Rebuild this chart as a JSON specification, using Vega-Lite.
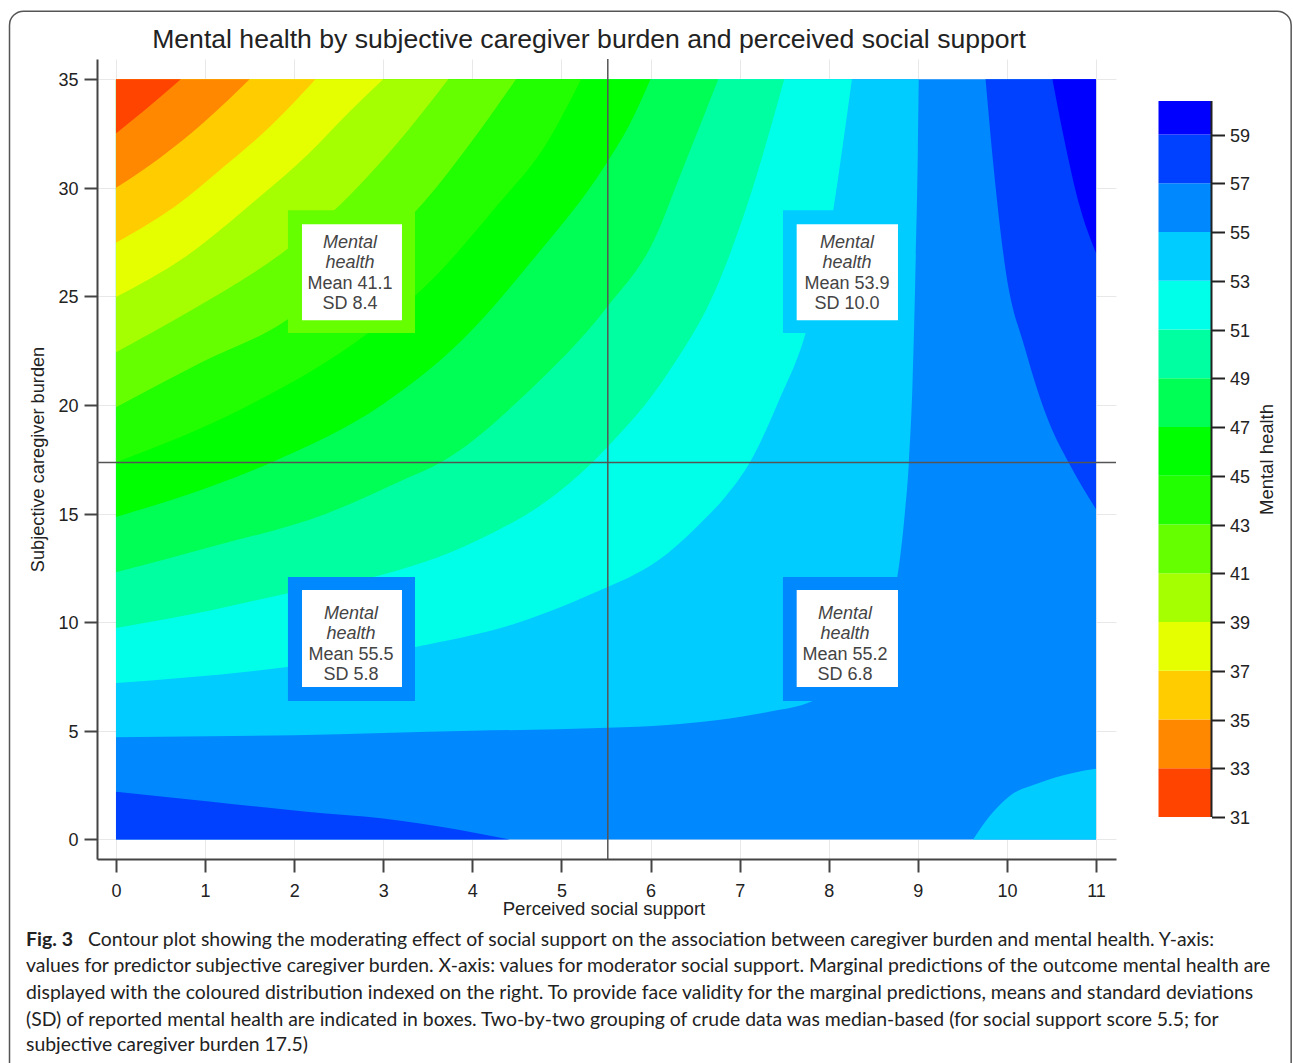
{"$schema":"https://vega.github.io/schema/vega-lite/v6.json","background":"white","padding":{"left":8,"top":10,"right":0,"bottom":0},"autosize":{"type":"pad"},"bounds":"flush","spacing":42.5,"config":{"view":{"stroke":null},"font":"Liberation Sans"},
"datasets":{"contour":[
{"region":"base","band":"55-57","x":0,"y":0,"y2":35},{"region":"base","band":"55-57","x":11,"y":0,"y2":35},
{"region":"L55","band":"53-55","x":0,"y":4.7,"y2":35},{"region":"L55","band":"53-55","x":2,"y":4.8,"y2":35},{"region":"L55","band":"53-55","x":4,"y":5.0,"y2":35},{"region":"L55","band":"53-55","x":5.52,"y":5.14,"y2":35},{"region":"L55","band":"53-55","x":6.19,"y":5.27,"y2":35},{"region":"L55","band":"53-55","x":6.76,"y":5.5,"y2":35},{"region":"L55","band":"53-55","x":7.33,"y":5.88,"y2":35},{"region":"L55","band":"53-55","x":7.8,"y":6.34,"y2":35},{"region":"L55","band":"53-55","x":8.3,"y":7.6,"y2":35},{"region":"L55","band":"53-55","x":8.6,"y":9.8,"y2":35},{"region":"L55","band":"53-55","x":8.77,"y":12.1,"y2":35},{"region":"L55","band":"53-55","x":8.85,"y":14.85,"y2":35},{"region":"L55","band":"53-55","x":8.9,"y":17.4,"y2":35},{"region":"L55","band":"53-55","x":8.94,"y":20.97,"y2":35},{"region":"L55","band":"53-55","x":8.97,"y":25.6,"y2":35},{"region":"L55","band":"53-55","x":9.0,"y":31.7,"y2":35},{"region":"L55","band":"53-55","x":9.01,"y":35,"y2":35},
{"region":"L53","band":"51-53","x":0,"y":7.2,"y2":35},{"region":"L53","band":"51-53","x":1.92,"y":7.94,"y2":35},{"region":"L53","band":"51-53","x":3.37,"y":8.87,"y2":35},{"region":"L53","band":"51-53","x":4.5,"y":9.96,"y2":35},{"region":"L53","band":"51-53","x":5.53,"y":11.64,"y2":35},{"region":"L53","band":"51-53","x":5.81,"y":12.17,"y2":35},{"region":"L53","band":"51-53","x":6.19,"y":13.17,"y2":35},{"region":"L53","band":"51-53","x":6.57,"y":14.6,"y2":35},{"region":"L53","band":"51-53","x":6.84,"y":15.78,"y2":35},{"region":"L53","band":"51-53","x":7.12,"y":17.4,"y2":35},{"region":"L53","band":"51-53","x":7.44,"y":20.2,"y2":35},{"region":"L53","band":"51-53","x":7.74,"y":23.3,"y2":35},{"region":"L53","band":"51-53","x":7.9,"y":25.9,"y2":35},{"region":"L53","band":"51-53","x":8.05,"y":28.96,"y2":35},{"region":"L53","band":"51-53","x":8.16,"y":32.04,"y2":35},{"region":"L53","band":"51-53","x":8.26,"y":35,"y2":35},
{"region":"L51","band":"49-51","x":0,"y":9.74,"y2":35},{"region":"L51","band":"49-51","x":1.07,"y":10.55,"y2":35},{"region":"L51","band":"49-51","x":1.93,"y":11.33,"y2":35},{"region":"L51","band":"49-51","x":2.87,"y":12.06,"y2":35},{"region":"L51","band":"49-51","x":4.07,"y":13.8,"y2":35},{"region":"L51","band":"49-51","x":4.94,"y":15.9,"y2":35},{"region":"L51","band":"49-51","x":5.5,"y":18.0,"y2":35},{"region":"L51","band":"49-51","x":6.19,"y":21.44,"y2":35},{"region":"L51","band":"49-51","x":6.76,"y":25.6,"y2":35},{"region":"L51","band":"49-51","x":7.1,"y":29.4,"y2":35},{"region":"L51","band":"49-51","x":7.5,"y":35,"y2":35},
{"region":"L49","band":"47-49","x":0,"y":12.3,"y2":35},{"region":"L49","band":"47-49","x":1.07,"y":13.47,"y2":35},{"region":"L49","band":"47-49","x":2.36,"y":15.0,"y2":35},{"region":"L49","band":"47-49","x":3.22,"y":16.55,"y2":35},{"region":"L49","band":"47-49","x":3.65,"y":17.37,"y2":35},{"region":"L49","band":"47-49","x":4.64,"y":20.67,"y2":35},{"region":"L49","band":"47-49","x":5.51,"y":24.5,"y2":35},{"region":"L49","band":"47-49","x":6.04,"y":27.6,"y2":35},{"region":"L49","band":"47-49","x":6.34,"y":30.65,"y2":35},{"region":"L49","band":"47-49","x":6.76,"y":35,"y2":35},
{"region":"L47","band":"45-47","x":0,"y":14.85,"y2":35},{"region":"L47","band":"45-47","x":1.07,"y":16.26,"y2":35},{"region":"L47","band":"45-47","x":1.75,"y":17.37,"y2":35},{"region":"L47","band":"45-47","x":3.0,"y":20.05,"y2":35},{"region":"L47","band":"45-47","x":3.88,"y":22.97,"y2":35},{"region":"L47","band":"45-47","x":4.64,"y":26.5,"y2":35},{"region":"L47","band":"45-47","x":5.5,"y":31.1,"y2":35},{"region":"L47","band":"45-47","x":5.75,"y":32.8,"y2":35},{"region":"L47","band":"45-47","x":6.0,"y":35,"y2":35},
{"region":"L45","band":"43-45","x":0,"y":17.37,"y2":35},{"region":"L45","band":"43-45","x":1.41,"y":19.82,"y2":35},{"region":"L45","band":"43-45","x":2.82,"y":23.28,"y2":35},{"region":"L45","band":"43-45","x":3.5,"y":25.58,"y2":35},{"region":"L45","band":"43-45","x":4.26,"y":29.1,"y2":35},{"region":"L45","band":"43-45","x":4.83,"y":32.03,"y2":35},{"region":"L45","band":"43-45","x":5.22,"y":35,"y2":35},
{"region":"L43","band":"41-43","x":0,"y":19.9,"y2":35},{"region":"L43","band":"41-43","x":0.96,"y":21.97,"y2":35},{"region":"L43","band":"41-43","x":1.92,"y":23.93,"y2":35},{"region":"L43","band":"41-43","x":2.74,"y":26.8,"y2":35},{"region":"L43","band":"41-43","x":3.37,"y":28.96,"y2":35},{"region":"L43","band":"41-43","x":3.95,"y":31.9,"y2":35},{"region":"L43","band":"41-43","x":4.49,"y":35,"y2":35},
{"region":"L41","band":"39-41","x":0,"y":22.43,"y2":35},{"region":"L41","band":"39-41","x":0.84,"y":24.35,"y2":35},{"region":"L41","band":"39-41","x":1.92,"y":27.17,"y2":35},{"region":"L41","band":"39-41","x":2.44,"y":28.93,"y2":35},{"region":"L41","band":"39-41","x":3.12,"y":31.88,"y2":35},{"region":"L41","band":"39-41","x":3.73,"y":35,"y2":35},
{"region":"L39","band":"37-39","x":0,"y":24.97,"y2":35},{"region":"L39","band":"37-39","x":0.77,"y":26.8,"y2":35},{"region":"L39","band":"37-39","x":1.56,"y":29.4,"y2":35},{"region":"L39","band":"37-39","x":2.17,"y":31.6,"y2":35},{"region":"L39","band":"37-39","x":2.62,"y":33.5,"y2":35},{"region":"L39","band":"37-39","x":3.0,"y":35,"y2":35},
{"region":"L37","band":"35-37","x":0,"y":27.47,"y2":35},{"region":"L37","band":"35-37","x":0.65,"y":29.1,"y2":35},{"region":"L37","band":"35-37","x":1.22,"y":31,"y2":35},{"region":"L37","band":"35-37","x":1.75,"y":32.9,"y2":35},{"region":"L37","band":"35-37","x":2.24,"y":35,"y2":35},
{"region":"L35","band":"33-35","x":0,"y":30,"y2":35},{"region":"L35","band":"33-35","x":0.5,"y":31.4,"y2":35},{"region":"L35","band":"33-35","x":0.99,"y":33.03,"y2":35},{"region":"L35","band":"33-35","x":1.5,"y":35,"y2":35},
{"region":"L33","band":"31-33","x":0,"y":32.5,"y2":35},{"region":"L33","band":"31-33","x":0.345,"y":33.65,"y2":35},{"region":"L33","band":"31-33","x":0.728,"y":35,"y2":35},
{"region":"R57","band":"57-59","x":9.76,"y":35,"y2":35},{"region":"R57","band":"57-59","x":9.85,"y":30.96,"y2":35},{"region":"R57","band":"57-59","x":9.98,"y":26.35,"y2":35},{"region":"R57","band":"57-59","x":10.21,"y":22.5,"y2":35},{"region":"R57","band":"57-59","x":10.48,"y":19.13,"y2":35},{"region":"R57","band":"57-59","x":10.7,"y":17.3,"y2":35},{"region":"R57","band":"57-59","x":11,"y":15.2,"y2":35},
{"region":"R59","band":"59+","x":10.51,"y":35,"y2":35},{"region":"R59","band":"59+","x":10.67,"y":31.7,"y2":35},{"region":"R59","band":"59+","x":10.82,"y":29.1,"y2":35},{"region":"R59","band":"59+","x":11,"y":27.0,"y2":35},
{"region":"B57","band":"57-59","x":0,"y":2.2,"y2":0},{"region":"B57","band":"57-59","x":1.07,"y":1.74,"y2":0},{"region":"B57","band":"57-59","x":2.14,"y":1.28,"y2":0},{"region":"B57","band":"57-59","x":3.0,"y":0.97,"y2":0},{"region":"B57","band":"57-59","x":3.86,"y":0.44,"y2":0},{"region":"B57","band":"57-59","x":4.42,"y":0,"y2":0},
{"region":"B55","band":"53-55","x":9.62,"y":0,"y2":0},{"region":"B55","band":"53-55","x":9.8,"y":1.05,"y2":0},{"region":"B55","band":"53-55","x":10.02,"y":1.97,"y2":0},{"region":"B55","band":"53-55","x":10.36,"y":2.6,"y2":0},{"region":"B55","band":"53-55","x":10.74,"y":3.06,"y2":0},{"region":"B55","band":"53-55","x":11,"y":3.25,"y2":0}
],
"boxes":[{"band":"41-43","x":1.93,"x2":3.356,"y":28.97,"y2":23.31,"ix":2.088,"ix2":3.21,"iy":28.32,"iy2":23.9},{"band":"53-55","x":7.486,"x2":8.777,"y":28.97,"y2":23.31,"ix":7.64,"ix2":8.777,"iy":28.32,"iy2":23.9},{"band":"55-57","x":1.93,"x2":3.356,"y":12.08,"y2":6.37,"ix":2.088,"ix2":3.21,"iy":11.48,"iy2":7.02},{"band":"55-57","x":7.486,"x2":8.777,"y":12.08,"y2":6.37,"ix":7.64,"ix2":8.777,"iy":11.48,"iy2":7.02}],
"boxItalic":[{"x":2.626,"y":27.45,"t":"Mental"},{"x":2.626,"y":26.53,"t":"health"},{"x":8.204,"y":27.45,"t":"Mental"},{"x":8.204,"y":26.53,"t":"health"},{"x":2.637,"y":10.37,"t":"Mental"},{"x":2.637,"y":9.45,"t":"health"},{"x":8.182,"y":10.37,"t":"Mental"},{"x":8.182,"y":9.45,"t":"health"}],
"boxStats":[{"x":2.626,"y":25.56,"t":"Mean 41.1"},{"x":2.626,"y":24.64,"t":"SD 8.4"},{"x":8.204,"y":25.56,"t":"Mean 53.9"},{"x":8.204,"y":24.64,"t":"SD 10.0"},{"x":2.637,"y":8.49,"t":"Mean 55.5"},{"x":2.637,"y":7.57,"t":"SD 5.8"},{"x":8.182,"y":8.49,"t":"Mean 55.2"},{"x":8.182,"y":7.57,"t":"SD 6.8"}],
"medians":[{"x":5.52,"x2":5.52,"y":-0.9,"y2":35.93},{"x":-0.213,"x2":11.224,"y":17.35,"y2":17.35}],
"card":[{"x":-1.195,"x2":13.19,"y":38.13,"y2":-10.42}],
"captionBold":[{"x":-1.01,"y":-4.625,"t":"Fig. 3"}],
"caption":[{"x":-0.314,"y":-4.625,"t":"Contour plot showing the moderating effect of social support on the association between caregiver burden and mental health. Y-axis:"},{"x":-1.01,"y":-5.82,"t":"values for predictor subjective caregiver burden. X-axis: values for moderator social support. Marginal predictions of the outcome mental health are"},{"x":-1.01,"y":-7.06,"t":"displayed with the coloured distribution indexed on the right. To provide face validity for the marginal predictions, means and standard deviations"},{"x":-1.01,"y":-8.31,"t":"(SD) of reported mental health are indicated in boxes. Two-by-two grouping of crude data was median-based (for social support score 5.5; for"},{"x":-1.01,"y":-9.46,"t":"subjective caregiver burden 17.5)"}],
"colorbar":[{"band":"31-33","lo":31,"hi":33},{"band":"33-35","lo":33,"hi":35},{"band":"35-37","lo":35,"hi":37},{"band":"37-39","lo":37,"hi":39},{"band":"39-41","lo":39,"hi":41},{"band":"41-43","lo":41,"hi":43},{"band":"43-45","lo":43,"hi":45},{"band":"45-47","lo":45,"hi":47},{"band":"47-49","lo":47,"hi":49},{"band":"49-51","lo":49,"hi":51},{"band":"51-53","lo":51,"hi":53},{"band":"53-55","lo":53,"hi":55},{"band":"55-57","lo":55,"hi":57},{"band":"57-59","lo":57,"hi":59},{"band":"59+","lo":59,"hi":60.38}]
},
"hconcat":[
{"width":1019,"height":800,
"title":{"text":"Mental health by subjective caregiver burden and perceived social support","anchor":"middle","dx":-17.5,"fontSize":26.6,"fontWeight":"normal","color":"#222","font":"Liberation Sans","offset":-43},
"encoding":{
"x":{"field":"x","type":"quantitative","scale":{"domain":[-0.213,11.224],"nice":false,"zero":false},"axis":{"title":"Perceived social support","values":[0,1,2,3,4,5,6,7,8,9,10,11],"grid":true,"gridColor":"#e8e8e8","domainColor":"#444","domainWidth":2,"tickColor":"#444","tickWidth":2,"tickSize":13,"labelFontSize":18,"labelColor":"#222","labelPadding":10,"labelFlush":false,"titleFontSize":18.6,"titleFontWeight":"normal","titleColor":"#222","titlePadding":-1,"titleX":506.5,"zindex":0}},
"y":{"field":"y","type":"quantitative","scale":{"domain":[-0.9,35.93],"nice":false,"zero":false},"axis":{"title":"Subjective caregiver burden","values":[0,5,10,15,20,25,30,35],"grid":true,"gridColor":"#e8e8e8","domainColor":"#444","domainWidth":2,"tickColor":"#444","tickWidth":2,"tickSize":13,"labelFontSize":18,"labelColor":"#222","labelPadding":6,"labelOffset":1.5,"labelFlush":false,"titleFontSize":18.2,"titleFontWeight":"normal","titleColor":"#222","titlePadding":10,"zindex":0}}
},
"layer":[
{"data":{"name":"card"},"mark":{"type":"rect","fill":"white","fillOpacity":0,"stroke":"#555","strokeWidth":1.5,"cornerRadiusTopLeft":14,"cornerRadiusTopRight":14,"clip":false},"encoding":{"x2":{"field":"x2"},"y2":{"field":"y2"}}},
{"data":{"name":"contour"},"mark":{"type":"area","orient":"vertical","interpolate":"monotone"},"encoding":{"y2":{"field":"y2"},"detail":{"field":"region"},"color":{"field":"band","type":"nominal","legend":null,"scale":{"domain":["31-33","33-35","35-37","37-39","39-41","41-43","43-45","45-47","47-49","49-51","51-53","53-55","55-57","57-59","59+"],"range":["#ff4400","#ff8800","#ffcc00","#e6ff00","#a6ff00","#66ff00","#22ff00","#00ff00","#00ff55","#00ffa0","#00ffe8","#00ccff","#0088ff","#0040ff","#0000ff"]}}}},
{"data":{"name":"boxes"},"mark":"rect","encoding":{"x2":{"field":"x2"},"y2":{"field":"y2"},"color":{"field":"band","type":"nominal","legend":null}}},
{"data":{"name":"boxes"},"mark":{"type":"rect","fill":"white"},"encoding":{"x":{"field":"ix","type":"quantitative"},"x2":{"field":"ix2"},"y":{"field":"iy","type":"quantitative"},"y2":{"field":"iy2"}}},
{"data":{"name":"boxItalic"},"mark":{"type":"text","fontStyle":"italic","fontSize":18,"color":"#444","baseline":"middle","align":"center"},"encoding":{"text":{"field":"t"}}},
{"data":{"name":"boxStats"},"mark":{"type":"text","fontSize":18,"color":"#444","baseline":"middle","align":"center"},"encoding":{"text":{"field":"t"}}},
{"data":{"name":"medians"},"mark":{"type":"rule","color":"#555","strokeWidth":1.5},"encoding":{"x2":{"field":"x2"},"y2":{"field":"y2"}}},
{"data":{"name":"captionBold"},"mark":{"type":"text","font":"Lato","fontWeight":"bold","fontSize":19.5,"color":"#222","align":"left","baseline":"middle","clip":false},"encoding":{"text":{"field":"t"}}},
{"data":{"name":"caption"},"mark":{"type":"text","font":"Lato","fontSize":19.4,"color":"#222","align":"left","baseline":"middle","clip":false},"encoding":{"text":{"field":"t"}}}
]},
{"width":53,"height":800,
"data":{"name":"colorbar"},
"layer":[
{"mark":"rect","encoding":{"x":{"datum":0,"type":"quantitative","scale":{"domain":[0,1]},"axis":null},"x2":{"datum":1},"y":{"field":"lo","type":"quantitative","scale":{"domain":[29.28,62.1],"nice":false,"zero":false},"axis":{"orient":"right","title":"Mental health","values":[31,33,35,37,39,41,43,45,47,49,51,53,55,57,59],"grid":false,"domain":false,"tickColor":"#222","tickWidth":2,"tickSize":13,"labelFontSize":18,"labelColor":"#222","labelPadding":5,"labelOffset":1.5,"titleFontSize":18.5,"titleFontWeight":"normal","titleColor":"#222","titleAngle":270,"titlePadding":27}},"y2":{"field":"hi"},"color":{"field":"band","type":"nominal","legend":null}}},
{"transform":[{"aggregate":[{"op":"min","field":"lo","as":"lo"},{"op":"max","field":"hi","as":"hi"}]}],"mark":{"type":"rule","color":"#222","strokeWidth":2},"encoding":{"x":{"datum":1,"type":"quantitative"},"y":{"field":"lo","type":"quantitative"},"y2":{"field":"hi"}}}
]}
]}
